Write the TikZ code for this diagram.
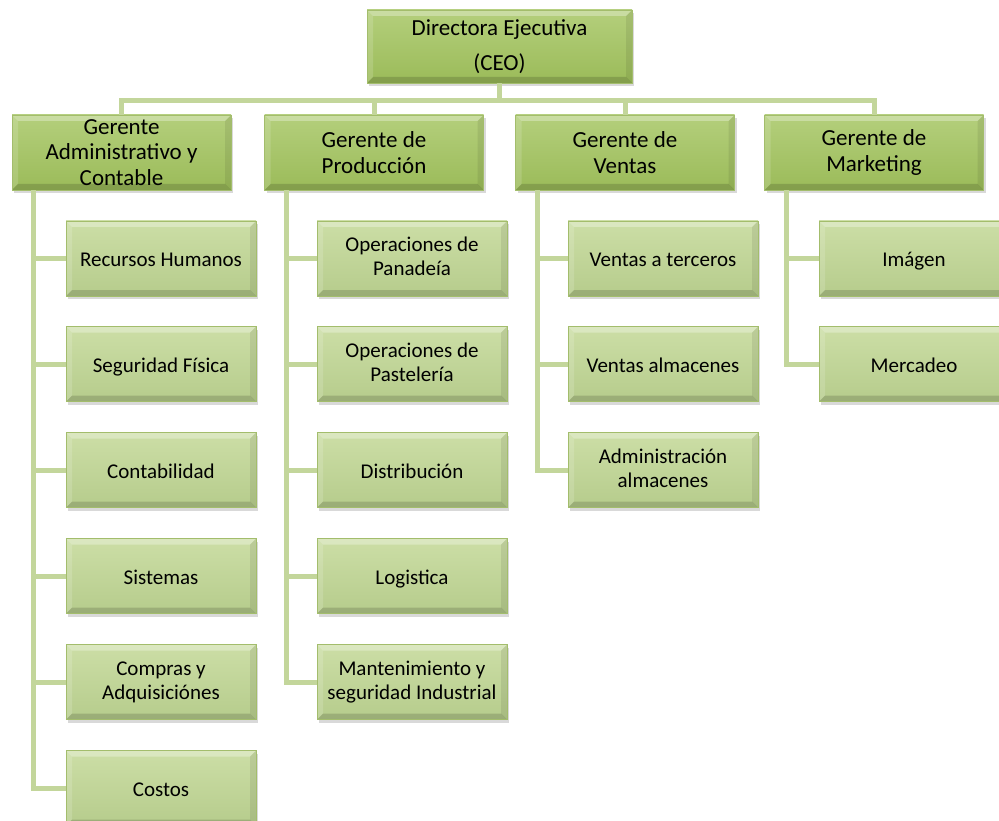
\documentclass[tikz,border=0pt]{standalone}
\usepackage{fontspec}
\setmainfont{Carlito}
\usetikzlibrary{shadows}

\definecolor{linaverde}{HTML}{C3D69B}
\definecolor{gertop}{HTML}{B4CF7C}
\definecolor{gerbot}{HTML}{9BBB59}
\definecolor{subtop}{HTML}{CCDEA6}
\definecolor{subbot}{HTML}{B6CC8C}
\definecolor{borde}{HTML}{A3BD6C}

\newcommand{\puntal}{\rule[-0.15\baselineskip]{0pt}{\baselineskip}}
\newcommand{\puntalg}{\rule{0pt}{\baselineskip}}

\tikzset{
  bisel/.style={path picture={
    \fill[white,opacity=0.30] (path picture bounding box.north west) -- (path picture bounding box.north east)
      -- ([xshift=-6pt,yshift=-6pt]path picture bounding box.north east) -- ([xshift=6pt,yshift=-6pt]path picture bounding box.north west) -- cycle;
    \fill[white,opacity=0.15] (path picture bounding box.north west) -- (path picture bounding box.south west)
      -- ([xshift=6pt,yshift=6pt]path picture bounding box.south west) -- ([xshift=6pt,yshift=-6pt]path picture bounding box.north west) -- cycle;
    \fill[black,opacity=0.15] (path picture bounding box.south west) -- (path picture bounding box.south east)
      -- ([xshift=-6pt,yshift=6pt]path picture bounding box.south east) -- ([xshift=6pt,yshift=6pt]path picture bounding box.south west) -- cycle;
    \fill[black,opacity=0.08] (path picture bounding box.north east) -- (path picture bounding box.south east)
      -- ([xshift=-6pt,yshift=6pt]path picture bounding box.south east) -- ([xshift=-6pt,yshift=-6pt]path picture bounding box.north east) -- cycle;
  }},
  caja/.style={draw=borde, line width=0.6pt, align=center, inner sep=0pt, bisel,
    drop shadow={opacity=0.3, shadow xshift=2pt, shadow yshift=-3pt}},
  ceobox/.style={caja, top color=gertop, bottom color=gerbot, minimum width=265pt, minimum height=73pt,
    execute at begin node=\puntalg, execute at end node=\puntalg,
    font=\fontsize{23}{35}\selectfont},
  gerbox/.style={caja, top color=gertop, bottom color=gerbot, minimum width=219pt, minimum height=75pt,
    execute at begin node=\puntalg, execute at end node=\puntalg,
    font=\fontsize{23}{25.5}\selectfont},
  subbox/.style={caja, top color=subtop, bottom color=subbot, minimum width=190pt, minimum height=75pt,
    execute at begin node=\puntal, execute at end node=\puntal,
    font=\fontsize{21}{24}\selectfont},
  linea/.style={draw=linaverde, line width=5pt}
}

\begin{document}
\begin{tikzpicture}[x=1pt,y=-1pt]
  \useasboundingbox (0,0) rectangle (999,821);

  % direccion
  \node[ceobox] (ceo) at (499.5,46.5) {Directora Ejecutiva\\(CEO)};

  % gerentes
  \node[gerbox] (gadm) at (121.5,152.5) {Gerente\\Administrativo y\\Contable};
  \node[gerbox] (gprod) at (374,152.5) {Gerente de\\Producción};
  \node[gerbox] (gvent) at (625,152.5) {Gerente de\\Ventas};
  \node[gerbox] (gmark) at (874,152.5) {Gerente de\\Marketing};

  % administrativo y contable
  \node[subbox] (rrhh) at (161,258.5) {Recursos Humanos};
  \node[subbox] (segf) at (161,364) {Seguridad Física};
  \node[subbox] (cont) at (161,470) {Contabilidad};
  \node[subbox] (sist) at (161,576) {Sistemas};
  \node[subbox] (comp) at (161,682) {Compras y\\Adquisiciónes};
  \node[subbox] (cost) at (161,788) {Costos};

  % produccion
  \node[subbox] (opan) at (412,258.5) {Operaciones de\\Panadeía};
  \node[subbox] (opas) at (412,364) {Operaciones de\\Pastelería};
  \node[subbox] (dist) at (412,470) {Distribución};
  \node[subbox] (logi) at (412,576) {Logistica};
  \node[subbox] (mant) at (412,682) {Mantenimiento y\\seguridad Industrial};

  % ventas
  \node[subbox] (vter) at (663,258.5) {Ventas a terceros};
  \node[subbox] (valm) at (663,364) {Ventas almacenes};
  \node[subbox] (aalm) at (663,470) {Administración\\almacenes};

  % marketing
  \node[subbox] (imag) at (914,258.5) {Imágen};
  \node[subbox] (merc) at (914,364) {Mercadeo};

  % conectores
  \foreach \g in {gadm,gprod,gvent,gmark}
    \draw[linea] (ceo.south) -- ++(0,17) -| (\g.north);
  \foreach \s in {rrhh,segf,cont,sist,comp,cost}
    \draw[linea] ([xshift=22pt]gadm.south west) |- (\s.west);
  \foreach \s in {opan,opas,dist,logi,mant}
    \draw[linea] ([xshift=22pt]gprod.south west) |- (\s.west);
  \foreach \s in {vter,valm,aalm}
    \draw[linea] ([xshift=22pt]gvent.south west) |- (\s.west);
  \foreach \s in {imag,merc}
    \draw[linea] ([xshift=22pt]gmark.south west) |- (\s.west);
\end{tikzpicture}
\end{document}
